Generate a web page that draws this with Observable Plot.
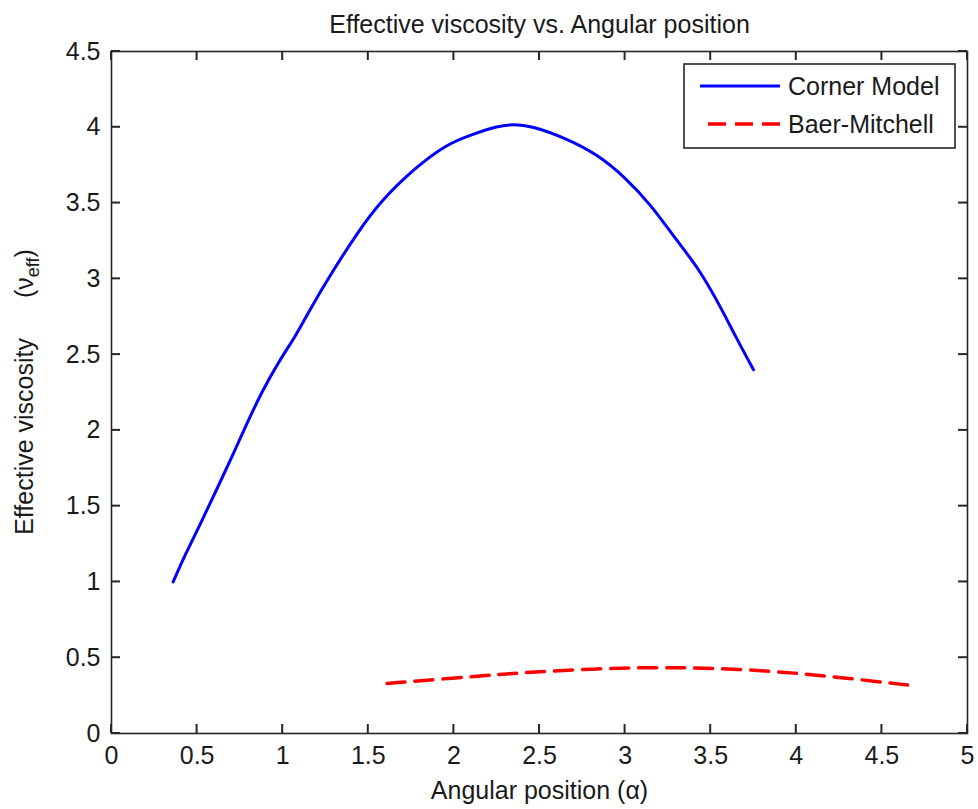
<!DOCTYPE html>
<html><head><meta charset="utf-8">
<script src="https://cdn.jsdelivr.net/npm/d3@7"></script>
<script src="https://cdn.jsdelivr.net/npm/@observablehq/plot@0.6"></script>
<style>
body{margin:0;background:#fff}
#chart svg{font-family:"Liberation Sans",Arial,Helvetica,sans-serif;display:block}
</style>
</head><body><div id="chart"></div>
<script>
// ---- data ----
const cornerX = [0.36,0.43,0.51,0.61,0.71,0.78,0.88,0.98,1.08,1.15,1.28,1.44,1.57,1.77,1.96,2.10,2.26,2.35,2.45,2.65,2.84,3.00,3.15,3.29,3.43,3.56,3.64,3.75];
const cornerY = [1.00,1.18,1.36,1.60,1.84,2.02,2.26,2.46,2.63,2.78,3.03,3.31,3.51,3.73,3.89,3.95,4.01,4.02,4.01,3.93,3.82,3.67,3.49,3.27,3.07,2.81,2.63,2.40];
const baerX = [1.61,1.98,2.28,2.51,3.00,3.33,3.66,3.99,4.30,4.65];
const baerY = [0.33,0.365,0.39,0.41,0.435,0.435,0.425,0.40,0.365,0.32];
const seriesNames = ["Corner Model","Baer-Mitchell"];
const seriesColors = ["#0000ff","#ff0000"];
const xTicks = [0,0.5,1,1.5,2,2.5,3,3.5,4,4.5,5];
const yTicks = [0,0.5,1,1.5,2,2.5,3,3.5,4,4.5];
const titleText = "Effective viscosity vs. Angular position";
const xLabelText = "Angular position (α)";
const yLabelMain = "Effective viscosity";
const yLabelSym = "ν";
const yLabelSub = "eff";

// ---- layout ----
const W = 978, H = 809, mL = 111, mR = 11, mT = 51, mB = 76;
const plotW = W - mL - mR, plotH = H - mT - mB;
const ink = "#262626", textInk = "#1a1a1a", FS = 25, TICK = 9;

const corner = cornerX.map((x, i) => ({x, y: cornerY[i]}));
const baer = baerX.map((x, i) => ({x, y: baerY[i]}));

const chart = Plot.plot({
  width: W, height: H,
  marginLeft: mL, marginRight: mR, marginTop: mT, marginBottom: mB,
  style: {fontSize: FS + "px", fontFamily: '"Liberation Sans", Arial, sans-serif', color: textInk, background: "white", overflow: "visible"},
  x: {domain: [0, 5]},
  y: {domain: [0, 4.5]},
  marks: [
    Plot.frame({stroke: ink, strokeWidth: 1.6}),
    Plot.axisX(xTicks, {anchor: "bottom", tickSize: 0, tickPadding: 13, label: null, tickFormat: d => String(d), fill: textInk}),
    Plot.axisY(yTicks, {anchor: "left", tickSize: 0, tickPadding: 11, label: null, tickFormat: d => String(d), fill: textInk}),
    Plot.line(corner, {x: "x", y: "y", stroke: seriesColors[0], strokeWidth: 3, curve: "basis"}),
    Plot.line(baer, {x: "x", y: "y", stroke: seriesColors[1], strokeWidth: 3.5, strokeDasharray: "18,10", curve: "basis"}),
    Plot.text([titleText], {frameAnchor: "top", dy: -27, lineAnchor: "middle", fontSize: FS, fill: textInk}),
    Plot.text([xLabelText], {frameAnchor: "bottom", dy: 57, lineAnchor: "middle", fontSize: FS, fill: textInk})
  ]
});

const svg = d3.select(chart);
const xs = chart.scale("x") || {}, ys = chart.scale("y") || {};
const fx = d3.scaleLinear().domain(xs.domain || [0, 5]).range(xs.range || [mL, W - mR]);
const fy = d3.scaleLinear().domain(ys.domain || [0, 4.5]).range(ys.range || [H - mB, mT]);
const frameTop = mT, frameBottom = H - mB, frameLeft = mL, frameRight = W - mR;

// inward tick marks on all four sides, positioned from Plot's scale description
const tg = svg.append("g").attr("class", "inward-ticks");
function seg(x1, y1, x2, y2) {
  tg.append("line").attr("x1", x1).attr("y1", y1).attr("x2", x2).attr("y2", y2)
    .style("stroke", ink).style("stroke-width", "2px");
}
xTicks.forEach(v => {
  const px = fx(v);
  seg(px, frameBottom, px, frameBottom - TICK);
  seg(px, frameTop, px, frameTop + TICK);
});
yTicks.forEach(v => {
  const py = fy(v);
  seg(frameLeft, py, frameLeft + TICK, py);
  seg(frameRight, py, frameRight - TICK, py);
});

// y label with subscript
const yl = svg.append("text")
  .attr("transform", `translate(33,${mT + plotH / 2}) rotate(-90)`)
  .attr("text-anchor", "middle")
  .attr("font-size", FS)
  .attr("fill", textInk);
yl.append("tspan").text(yLabelMain);
yl.append("tspan").attr("dx", 40).text("(" + yLabelSym);
yl.append("tspan").attr("dy", 6).attr("font-size", 18).text(yLabelSub);
yl.append("tspan").attr("dy", -6).text(")");

// legend box
const lg = svg.append("g");
lg.append("rect").attr("x", 684).attr("y", 64).attr("width", 271).attr("height", 84)
  .attr("fill", "white").attr("stroke", ink).attr("stroke-width", 1.6);
const rowsY = [86, 124];
seriesNames.forEach((name, i) => {
  lg.append("line").attr("x1", i ? 708 : 700).attr("x2", 780).attr("y1", rowsY[i]).attr("y2", rowsY[i])
    .attr("stroke", seriesColors[i]).attr("stroke-width", i ? 3.5 : 3)
    .attr("stroke-dasharray", i ? "18,9" : null);
  lg.append("text").attr("x", 788).attr("y", rowsY[i]).attr("dy", "0.35em")
    .attr("text-anchor", "start")
    .attr("font-size", FS).attr("fill", textInk).text(name);
});

document.getElementById("chart").append(chart);
</script>
</body></html>
